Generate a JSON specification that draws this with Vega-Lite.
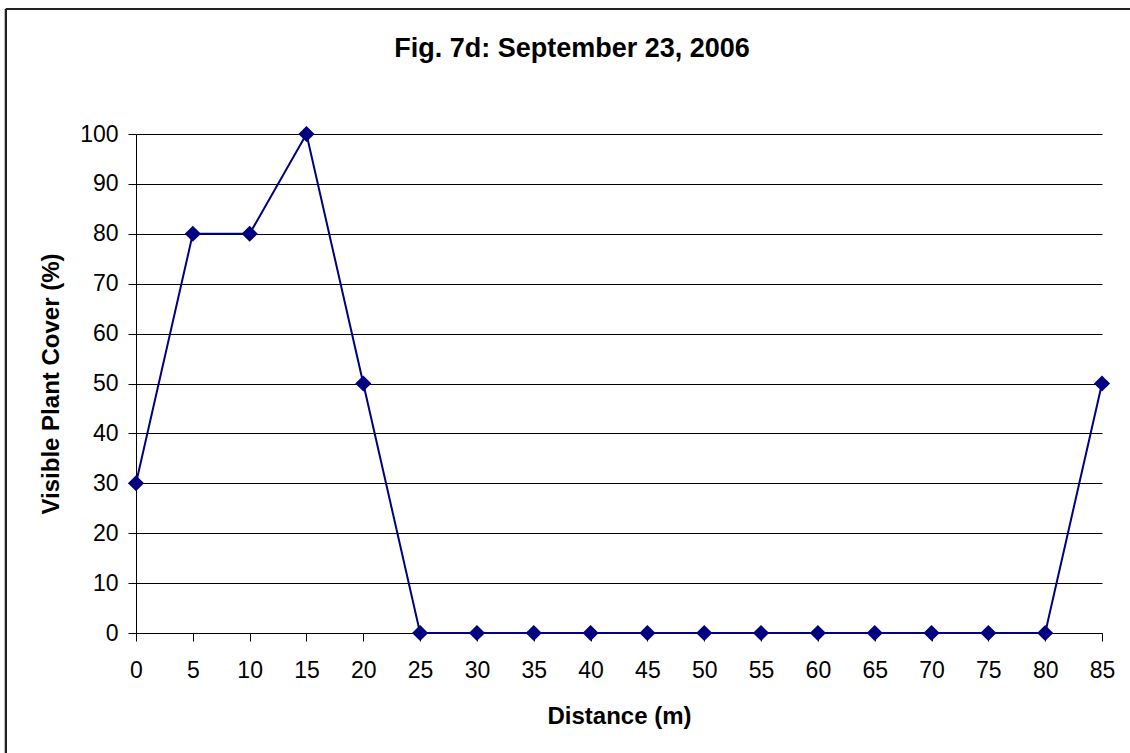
{
  "$schema": "https://vega.github.io/schema/vega-lite/v6.json",
  "width": 966,
  "height": 499,
  "autosize": {"type": "none"},
  "padding": {"left": 136, "top": 134, "right": 28, "bottom": 120},
  "background": "white",
  "config": {
    "view": {"stroke": null},
    "font": "Liberation Sans"
  },
  "title": {
    "text": "Fig. 7d: September 23, 2006",
    "fontSize": 27,
    "fontWeight": "bold",
    "color": "black",
    "font": "Liberation Sans",
    "anchor": "middle",
    "frame": "group",
    "dx": -47,
    "offset": -55
  },
  "data": {
    "values": [
      {"distance": 0, "cover": 30},
      {"distance": 5, "cover": 80},
      {"distance": 10, "cover": 80},
      {"distance": 15, "cover": 100},
      {"distance": 20, "cover": 50},
      {"distance": 25, "cover": 0},
      {"distance": 30, "cover": 0},
      {"distance": 35, "cover": 0},
      {"distance": 40, "cover": 0},
      {"distance": 45, "cover": 0},
      {"distance": 50, "cover": 0},
      {"distance": 55, "cover": 0},
      {"distance": 60, "cover": 0},
      {"distance": 65, "cover": 0},
      {"distance": 70, "cover": 0},
      {"distance": 75, "cover": 0},
      {"distance": 80, "cover": 0},
      {"distance": 85, "cover": 50}
    ]
  },
  "layer": [
    {
      "mark": {
        "type": "line",
        "color": "#000080",
        "strokeWidth": 2,
        "point": {"shape": "diamond", "size": 260, "filled": true, "color": "#000080", "opacity": 1}
      },
      "encoding": {
        "x": {
          "field": "distance",
          "type": "quantitative",
          "scale": {"domain": [0, 85], "nice": false, "zero": false},
          "axis": {
            "title": "Distance (m)",
            "values": [0, 5, 10, 15, 20, 25, 30, 35, 40, 45, 50, 55, 60, 65, 70, 75, 80, 85],
            "grid": false,
            "domainColor": "#000",
            "domainWidth": 1,
            "tickColor": "#000",
            "tickSize": 8,
            "labelFontSize": 23,
            "labelColor": "black",
            "labelPadding": 18,
            "labelFlush": false,
            "labelOverlap": false,
            "titleFontSize": 24,
            "titleFontWeight": "bold",
            "titleColor": "black",
            "titleBaseline": "alphabetic",
            "titleY": 90
          }
        },
        "y": {
          "field": "cover",
          "type": "quantitative",
          "scale": {"domain": [0, 100], "nice": false},
          "axis": {
            "title": "Visible Plant Cover (%)",
            "values": [0, 10, 20, 30, 40, 50, 60, 70, 80, 90, 100],
            "grid": true,
            "gridColor": "#000",
            "gridOpacity": 1,
            "gridWidth": 1,
            "domainColor": "#000",
            "domainWidth": 1,
            "tickColor": "#000",
            "tickSize": 8,
            "labelFontSize": 23,
            "labelColor": "black",
            "labelPadding": 10,
            "labelOverlap": false,
            "titleFontSize": 24,
            "titleFontWeight": "bold",
            "titleColor": "black",
            "titleX": -73
          }
        }
      }
    },
    {
      "mark": {"type": "rule", "color": "#222", "strokeWidth": 2},
      "encoding": {
        "x": {"datum": -11.44},
        "y": {"datum": -30},
        "y2": {"datum": 125.05}
      }
    },
    {
      "mark": {"type": "rule", "color": "#222", "strokeWidth": 2},
      "encoding": {
        "x": {"datum": -11.44},
        "x2": {"datum": 95},
        "y": {"datum": 125.05}
      }
    }
  ]
}
